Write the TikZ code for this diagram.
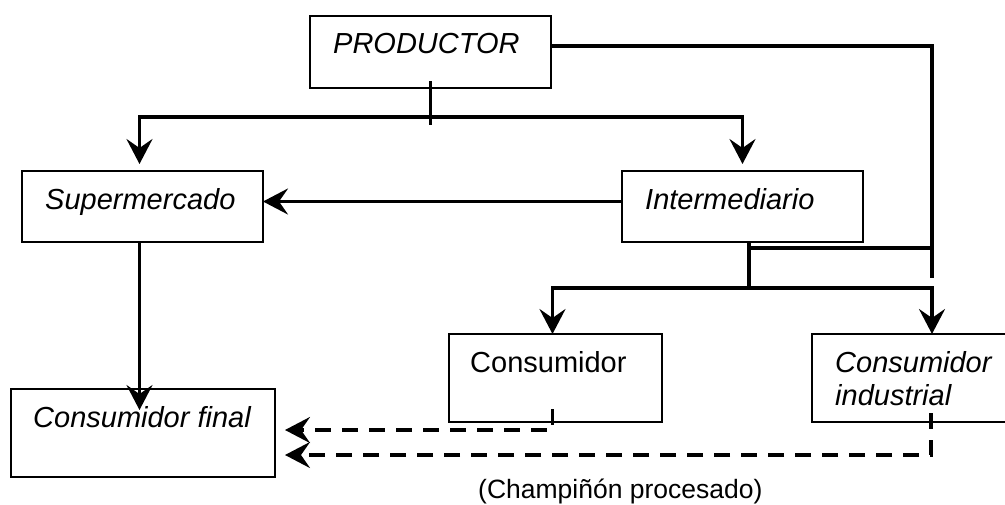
\documentclass[tikz,border=0pt]{standalone}
\usepackage{fontspec}
\setmainfont{Liberation Sans}
\usetikzlibrary{arrows.meta,calc}
\tikzset{
  box/.style={draw=black, line width=1.6pt, rectangle, inner sep=0pt, outer sep=0pt, anchor=north west},
  lbl/.style={font=\fontsize{29}{33}\selectfont\itshape, inner sep=0pt, anchor=base west, align=left},
  conn/.style={draw=black, line width=3.3pt},
  dconn/.style={draw=black, line width=3.3pt, dash pattern=on 16pt off 11pt},
  arr/.style={-{Stealth[length=25pt,width=26pt,inset=9pt]}}
}
\begin{document}
\begin{tikzpicture}[x=1pt,y=-1pt]
\clip (0,0) rectangle (1005,504);
\fill[white] (0,0) rectangle (1005,504);
% boxes
\node[box, minimum width=241pt, minimum height=72pt] (prod) at (310,16) {};
\node[box, minimum width=241pt, minimum height=71pt] (sup) at (22,171) {};
\node[box, minimum width=241pt, minimum height=71pt] (inter) at (622,171) {};
\node[box, minimum width=213pt, minimum height=88pt] (cons) at (449,334) {};
\node[box, minimum width=200pt, minimum height=88pt] (consind) at (812,334) {};
\node[box, minimum width=264pt, minimum height=88pt] (cfinal) at (11,389) {};
% labels
\node[lbl] (tprod) at ($(prod.north west)+(23,37)$) {PRODUCTOR};
\node[lbl] (tsup) at ($(sup.north west)+(23,38)$) {Supermercado};
\node[lbl] (tinter) at ($(inter.north west)+(23,38)$) {Intermediario};
\node[lbl, font=\fontsize{29}{33}\selectfont] (tcons) at ($(cons.north west)+(21,38)$) {Consumidor};
\node[lbl] (tconsind) at ($(consind.north west)+(23,71)$) {Consumidor\\industrial};
\node[lbl] (tcfinal) at ($(cfinal.north west)+(22,38)$) {Consumidor final};
\node[inner sep=0pt, anchor=base west, font=\fontsize{26.5}{30}\selectfont] (cap) at (478,498) {(Champiñón procesado)};
% junction coordinates
\coordinate (pd2) at ($(prod.south)+(0,37)$);
\coordinate (hsplit) at ($(prod.south)+(0,29)$);
\coordinate (rj) at (932,278);
\coordinate (ij1) at ($(inter.south)+(6.5,6)$);
\coordinate (ij2) at ($(inter.south)+(6.5,46)$);
\coordinate (sfin) at ($(sup.south |- cfinal.north)+(-3,21)$);
% connectors
\draw[conn] ([yshift=7pt]prod.south) -- (pd2);
\draw[conn,arr] (hsplit) -| ([xshift=-3pt,yshift=7pt]sup.north);
\draw[conn,arr] (hsplit) -| ([yshift=7pt]inter.north);
\draw[conn,arr] ([yshift=5pt]inter.west) -- ([yshift=5pt]sup.east);
\draw[conn] ([yshift=6pt]prod.east) -| (rj);
\draw[conn] ([xshift=6.5pt,yshift=1pt]inter.south) -- (ij2);
\draw[conn] (ij1) -- (ij1 -| rj);
\draw[conn,arr] (ij2) -| ([xshift=-3pt]cons.north);
\draw[conn,arr] (ij2) -| (rj |- consind.north);
\draw[conn,arr] ([xshift=-3pt]sup.south) -- (sfin);
\draw[dconn,arr] ($(cons.south)+(-3,-13)$) -- ($(cons.south)+(-3,8)$) -- ($(cfinal.east)+(10,-3)$);
\draw[dconn,arr] ($(rj |- consind.south)+(-1,-9)$) -- ($(rj |- consind.south)+(-1,33)$) -- ($(cfinal.east)+(10,22)$);
\end{tikzpicture}
\end{document}
